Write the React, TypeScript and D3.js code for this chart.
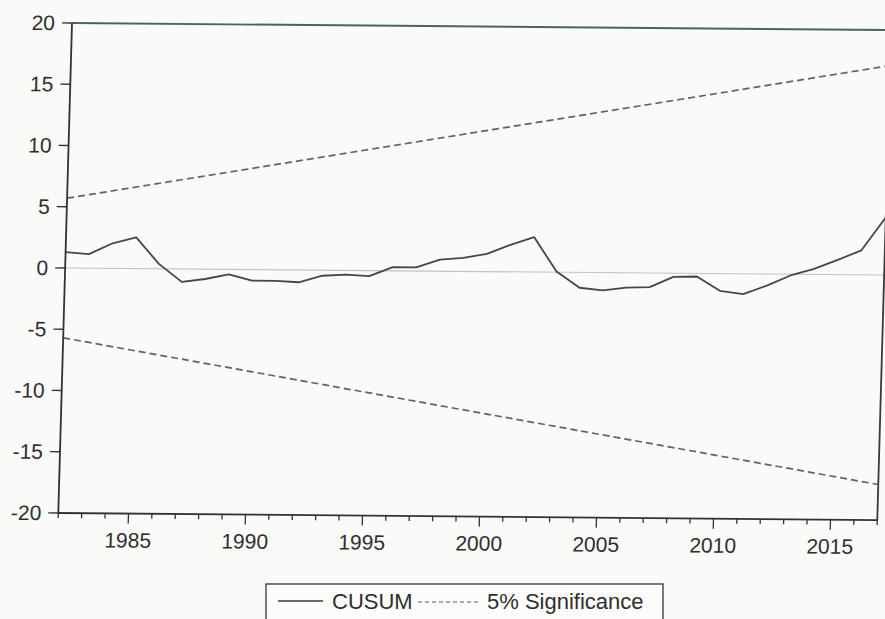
import React from "react";
import * as d3 from "d3";

// Years of the CUSUM series
const years: number[] = [
  1982, 1983, 1984, 1985, 1986, 1987, 1988, 1989, 1990, 1991, 1992, 1993,
  1994, 1995, 1996, 1997, 1998, 1999, 2000, 2001, 2002, 2003, 2004, 2005,
  2006, 2007, 2008, 2009, 2010, 2011, 2012, 2013, 2014, 2015, 2016, 2017,
];
// CUSUM values
const cusum: number[] = [
  1.3, 1.15, 2.05, 2.55, 0.4, -1.05, -0.8, -0.4, -0.9, -0.9, -1.0, -0.45,
  -0.35, -0.45, 0.3, 0.3, 0.95, 1.1, 1.45, 2.2, 2.85, 0.05, -1.25, -1.45,
  -1.2, -1.15, -0.3, -0.25, -1.4, -1.65, -0.95, -0.1, 0.45, 1.2, 2.0, 4.7,
];
// 5% significance bounds (straight lines between end years)
const boundYears: number[] = [1982, 2017];
const upperBound: number[] = [5.7, 17.1];
const lowerBound: number[] = [-5.7, -17.1];

const yTicks: number[] = [20, 15, 10, 5, 0, -5, -10, -15, -20];
const xLabelTicks: number[] = [1985, 1990, 1995, 2000, 2005, 2010, 2015];
const legendLabels: string[] = ["CUSUM", "5% Significance"];

const W = 819;
const H = 490;
const FONT = "'Liberation Sans', Arial, Helvetica, sans-serif";

export default function App() {
  const x = d3.scaleLinear().domain([1982, 2017]).range([0, W]);
  const y = d3.scaleLinear().domain([-20, 20]).range([H, 0]);

  const line = d3
    .line<[number, number]>()
    .x((d) => x(d[0]))
    .y((d) => y(d[1]));

  const cusumPath = line(years.map((yr, i) => [yr, cusum[i]] as [number, number])) || "";
  const upperPath = line(boundYears.map((yr, i) => [yr, upperBound[i]] as [number, number])) || "";
  const lowerPath = line(boundYears.map((yr, i) => [yr, lowerBound[i]] as [number, number])) || "";

  const minorTicks = d3.range(1982, 2018);

  return (
    <svg
      width={885}
      height={619}
      style={{ position: "absolute", left: 0, top: 0, display: "block" }}
      fontFamily={FONT}
    >
      <rect x={0} y={0} width={885} height={619} fill="#fafaf8" />
      <g transform="matrix(1,0.0086,-0.028,1,72,23)">
        {/* zero line */}
        <line x1={0} x2={W} y1={y(0)} y2={y(0)} stroke="#c2c2c2" strokeWidth={1.1} />
        {/* significance bounds */}
        <path d={upperPath} fill="none" stroke="#626262" strokeWidth={1.7} strokeDasharray="7,4" />
        <path d={lowerPath} fill="none" stroke="#626262" strokeWidth={1.7} strokeDasharray="7,4" />
        {/* CUSUM */}
        <path d={cusumPath} fill="none" stroke="#464646" strokeWidth={1.8} strokeLinejoin="round" />
        {/* frame */}
        <line x1={0} x2={W} y1={0} y2={0} stroke="#46665a" strokeWidth={1.9} />
        <line x1={W} x2={W} y1={0} y2={H} stroke="#3a3a3a" strokeWidth={1.8} />
        <line x1={0} x2={0} y1={0} y2={H} stroke="#333" strokeWidth={1.8} />
        <line x1={0} x2={W} y1={H} y2={H} stroke="#333" strokeWidth={1.8} />
        {/* y ticks */}
        {yTicks.map((t) => (
          <g key={"y" + t}>
            <line x1={-10} x2={0} y1={y(t)} y2={y(t)} stroke="#333" strokeWidth={1.3} />
            <text
              x={-17}
              y={y(t)}
              dy="0.35em"
              textAnchor="end"
              fontSize={21}
              fill="#2e2e2e"
            >
              {t}
            </text>
          </g>
        ))}
        {/* x ticks */}
        {minorTicks.map((t) => (
          <line
            key={"xt" + t}
            x1={x(t)}
            x2={x(t)}
            y1={H}
            y2={H + (t % 5 === 0 ? 10 : 5)}
            stroke="#333"
            strokeWidth={1.3}
          />
        ))}
        {xLabelTicks.map((t) => (
          <text key={"xl" + t} x={x(t)} y={H + 34} textAnchor="middle" fontSize={21} fill="#2e2e2e">
            {t}
          </text>
        ))}
      </g>
      {/* legend */}
      <g>
        <rect x={266} y={584} width={397} height={60} fill="#fcfcfb" stroke="#333" strokeWidth={1.3} />
        <line x1={278} x2={323} y1={601} y2={601} stroke="#3c3c3c" strokeWidth={1.5} />
        <text x={332} y={609} fontSize={22} fill="#2e2e2e">
          {legendLabels[0]}
        </text>
        <line x1={418} x2={481} y1={602} y2={602} stroke="#5a5a5a" strokeWidth={1.2} strokeDasharray="4,3" />
        <text x={487} y={609} fontSize={22} fill="#2e2e2e">
          {legendLabels[1]}
        </text>
      </g>
    </svg>
  );
}
